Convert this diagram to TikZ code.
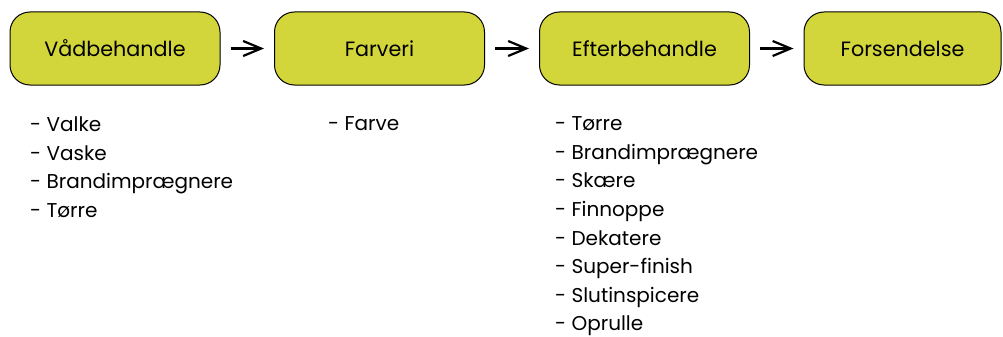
\documentclass[tikz,border=0pt]{standalone}
\usepackage{fontspec}
\setmainfont{Poppins}
\usetikzlibrary{arrows.meta}
\definecolor{boxfill}{RGB}{211,214,59}
\tikzset{
  stepbox/.style={draw=black, line width=1pt, fill=boxfill, rounded corners=20pt,
    minimum width=210pt, minimum height=73pt, inner sep=0pt,
    font=\fontsize{20.7}{24}\selectfont},
  flowarrow/.style={-{Straight Barb[length=18pt,width=15pt,line width=2.2pt]}, line width=2.4pt,
    shorten <=10pt, shorten >=10pt},
  listtext/.style={anchor=north west, align=left, inner sep=0pt,
    font=\fontsize{20}{28.6}\selectfont}
}
\begin{document}
\begin{tikzpicture}[x=1pt,y=-1pt]
\useasboundingbox (0,0) rectangle (1003,337);
\node[stepbox] (a) at (115,48.5) {Vådbehandle};
\node[stepbox] (b) at (379.5,48.5) {Farveri};
\node[stepbox] (c) at (644.5,48.5) {Efterbehandle};
\node[stepbox, minimum width=197pt] (d) at (902.5,48.5) {Forsendelse};
\draw[flowarrow] (a) -- (b);
\draw[flowarrow] (b) -- (c);
\draw[flowarrow] (c) -- (d);
\node[listtext] (la) at (30,116.5) {- Valke\\- Vaske\\- Brandimprægnere\\- Tørre};
\node[listtext] (lb) at (328,116.5) {- Farve};
\node[listtext] (lc) at (555,116.5) {- Tørre\\- Brandimprægnere\\- Skære\\- Finnoppe\\- Dekatere\\- Super-finish\\- Slutinspicere\\- Oprulle};
\end{tikzpicture}
\end{document}
